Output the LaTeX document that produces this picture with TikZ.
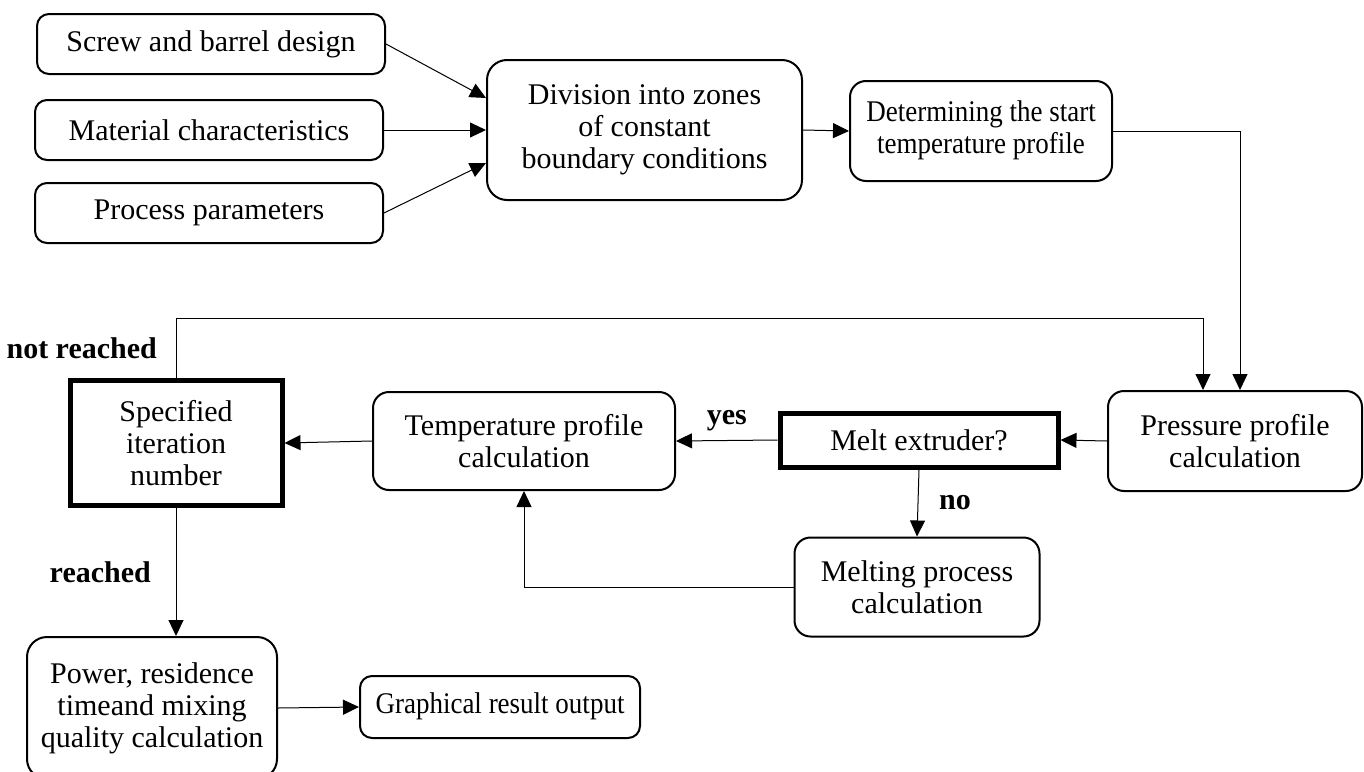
\documentclass[tikz,border=0pt]{standalone}
\usepackage{fontspec}
\setmainfont{Liberation Serif}
\usetikzlibrary{arrows.meta,calc}
\newcommand{\narrowtxt}[1]{\scalebox{0.9}[1]{\begin{tabular}{@{}c@{}}#1\end{tabular}}}
\begin{document}
\begin{tikzpicture}[x=0.5pt,y=-0.5pt,
  txt/.style={font=\fontsize{15}{16}\selectfont},
  box/.style={txt, draw, line width=1pt, rounded corners=6pt, align=center, inner sep=0pt},
  thickbox/.style={txt, draw, line width=2.5pt, align=center, inner sep=0pt},
  arr/.style={line width=0.5pt, -{Triangle[length=8pt,width=7.5pt]}},
  lbl/.style={font=\fontsize{15}{16}\selectfont\bfseries}
]
\useasboundingbox (0,0) rectangle (1364,771);
\clip (0,0) rectangle (1364,771);

\node[box, minimum width=174pt, minimum height=30pt] (b1) at (211,44) {Screw and barrel design};
\node[box, minimum width=174pt, minimum height=30pt] (b2) at (209,130) {Material characteristics};
\node[box, minimum width=174pt, minimum height=30pt] (b3) at (209,213) {Process parameters};
\node[box, rounded corners=10pt, minimum width=157.5pt, minimum height=70pt] (div) at (644.5,130) {Division into zones\\of constant\\boundary conditions};
\node[box, rounded corners=8pt, minimum width=131pt, minimum height=50pt] (det) at (981,131) {\narrowtxt{Determining the start\\temperature profile}};
\node[box, rounded corners=8pt, minimum width=127pt, minimum height=50pt] (press) at (1235,441) {Pressure profile\\calculation};
\node[thickbox, minimum width=139pt, minimum height=27pt] (melt) at (919,440) {Melt extruder?};
\node[box, rounded corners=8pt, minimum width=151pt, minimum height=49pt] (temp) at (524,441) {Temperature profile\\calculation};
\node[box, rounded corners=8pt, minimum width=122.5pt, minimum height=49.5pt] (melting) at (917,587) {Melting process\\calculation};
\node[thickbox, minimum width=106pt, minimum height=62.5pt] (spec) at (176,443) {Specified\\iteration\\number};
\node[box, rounded corners=10pt, minimum width=125pt, minimum height=71pt] (power) at (152,708) {Power, residence\\timeand mixing\\quality calculation};
\node[box, minimum width=140pt, minimum height=31pt] (graph) at (500,707) {\narrowtxt{Graphical result output}};

\draw[arr] (b1.east) -- ($(div.west)+(0,-32)$);
\draw[arr] (b2.east) -- (div.west);
\draw[arr] (b3.east) -- ($(div.west)+(0,33)$);
\draw[arr] (div.east) -- (det.west);
\draw[arr] (det.east) -| ($(press.north)+(5,0)$);
\draw[arr] (spec.north) -- ++(0,-60) node[lbl, midway, left=6pt] {not reached} -| ($(press.north)+(-32,0)$);
\draw[arr] (press.west) -- (melt.east);
\draw[arr] (melt.west) -- (temp.east) node[lbl, midway, above=1pt] {yes};
\draw[arr] (melt.south) -- (melting.north) node[lbl, midway, right=7pt] {no};
\draw[arr] (melting.west) -| (temp.south);
\draw[arr] (temp.west) -- (spec.east);
\draw[arr] (spec.south) -- (spec.south |- power.north) node[lbl, midway, left=9pt] {reached};
\draw[arr] (power.east) -- (graph.west);
\end{tikzpicture}
\end{document}
